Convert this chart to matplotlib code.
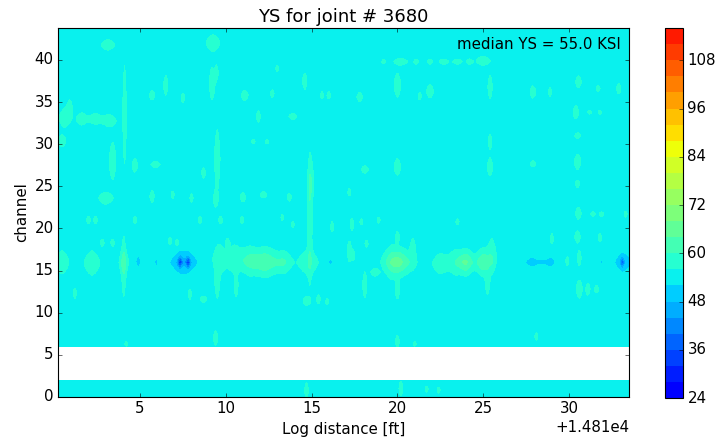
import numpy as np
import matplotlib
matplotlib.use('Agg')
import matplotlib.pyplot as plt

plt.style.use('classic')
plt.rcParams['font.size'] = 13.5

joint_id = 3680
median_ys = 55.0
log_origin = 14810.0          # log distance of the joint start [ft]
dist_range = (0.22, 33.5)     # distances covered, relative to log_origin
n_channels_top = 43.8
dead_channels = (2.0, 6.0)    # no readings between these channels
base_ys = 54.0                # typical YS level across the joint [KSI]

# local YS features: (distance offset, channel, half-width ft, half-height ch, peak YS)
band16_spots = [
    (0.45, 16.0, 0.45, 1.5, 58.5), (2.2, 15.9, 0.5, 1.6, 58.5),
    (4.05, 16.0, 0.3, 1.4, 58.5), (4.9, 16.1, 0.17, 0.8, 50.0),
    (5.95, 16.0, 0.12, 0.5, 50.5), (7.55, 16.0, 0.85, 1.5, 49.0),
    (7.33, 16.0, 0.17, 0.7, 38.0), (7.8, 16.0, 0.17, 0.7, 38.0),
    (9.6, 16.3, 0.4, 2.0, 58.5), (10.5, 16.4, 0.6, 1.8, 58.5),
    (11.4, 16.2, 0.55, 1.7, 58.5), (12.3, 16.0, 0.9, 1.5, 63.0),
    (13.4, 16.0, 0.45, 1.3, 58.5), (14.8, 16.0, 0.65, 1.6, 58.5),
    (16.1, 16.0, 0.17, 0.35, 50.0), (17.2, 17.3, 0.14, 1.4, 58.5),
    (17.4, 16.8, 0.14, 0.7, 58.5), (19.7, 16.0, 0.5, 2.0, 58.5),
    (20.15, 16.0, 0.8, 1.4, 63.0), (20.9, 17.5, 0.17, 1.5, 58.5),
    (22.5, 15.8, 0.5, 1.3, 58.5), (23.4, 16.0, 0.55, 1.6, 58.5),
    (24.0, 16.0, 0.45, 1.3, 63.0), (25.0, 16.0, 0.45, 1.4, 63.0),
    (25.5, 16.8, 0.28, 2.2, 58.5), (27.85, 16.0, 0.45, 0.7, 50.0),
    (28.9, 16.0, 0.35, 0.7, 50.0), (28.4, 16.0, 0.3, 0.3, 51.0),
    (31.05, 16.0, 0.09, 0.35, 51.0), (31.9, 16.0, 0.09, 0.35, 51.0),
    (33.15, 16.0, 0.5, 1.2, 49.0), (33.1, 16.0, 0.14, 0.6, 42.0),
]

# smaller patches off the channel 16 band: (distance offset, channel, half-width, half-height)
upper_spots = [
    (3.13, 41.8, 0.45, 0.7), (9.25, 42.0, 0.45, 1.1), (9.2, 37.2, 0.18, 2.2),
    (9.45, 38.5, 0.12, 1.0), (0.6, 33.1, 0.35, 1.2), (0.9, 34.2, 0.18, 1.2),
    (1.6, 33.0, 0.35, 0.8), (2.4, 33.0, 0.45, 0.7), (3.2, 32.8, 0.45, 0.8),
    (0.45, 30.4, 0.25, 0.8), (4.1, 33.5, 0.12, 6.5), (3.4, 28.0, 0.22, 2.5),
    (4.7, 27.5, 0.18, 0.9), (5.7, 35.8, 0.18, 0.6), (5.9, 27.6, 0.3, 0.4),
    (6.5, 37.0, 0.14, 1.3), (7.5, 35.5, 0.12, 0.6), (8.7, 26.6, 0.12, 0.7),
    (9.5, 28.2, 0.18, 4.0), (11.1, 35.8, 0.22, 0.7), (14.6, 37.5, 0.14, 1.1),
    (14.95, 25.5, 0.18, 2.8), (14.9, 20.5, 0.14, 7.5), (11.9, 33.3, 0.12, 0.8),
    (13.0, 39.0, 0.1, 0.4), (12.7, 36.0, 0.12, 0.5), (13.9, 33.3, 0.25, 0.4),
    (15.6, 35.8, 0.1, 0.5), (16.0, 35.8, 0.12, 0.5), (17.8, 35.6, 0.18, 0.6),
    (18.1, 27.0, 0.22, 0.5), (11.6, 30.3, 0.12, 0.3), (12.4, 30.3, 0.12, 0.3),
    (20.0, 37.0, 0.22, 1.6), (20.0, 27.3, 0.22, 1.1), (21.9, 36.3, 0.22, 0.9),
    (21.3, 35.7, 0.1, 0.5), (19.2, 39.8, 0.12, 0.3), (20.2, 39.8, 0.45, 0.45),
    (21.1, 39.8, 0.15, 0.35), (21.9, 39.8, 0.15, 0.35), (22.7, 39.8, 0.3, 0.35),
    (23.5, 39.8, 0.3, 0.35), (24.2, 39.8, 0.2, 0.35), (25.0, 39.9, 0.45, 0.6),
    (25.4, 36.8, 0.14, 1.6), (25.4, 30.3, 0.12, 1.0), (25.4, 27.3, 0.18, 1.2),
    (27.9, 36.2, 0.18, 0.8), (28.9, 36.2, 0.1, 0.6), (30.55, 37.4, 0.18, 0.8),
    (30.4, 33.8, 0.18, 0.9), (30.5, 31.0, 0.18, 0.4), (30.5, 27.9, 0.22, 1.0),
    (30.5, 25.3, 0.14, 0.5), (32.9, 36.6, 0.14, 0.7), (31.7, 36.6, 0.12, 0.4),
    (27.9, 27.7, 0.18, 0.4), (31.2, 33.8, 0.12, 0.25), (31.8, 33.8, 0.12, 0.25),
]

middle_spots = [
    (3.0, 23.6, 0.45, 0.8), (5.7, 23.8, 0.14, 0.8), (6.9, 24.0, 0.1, 0.5),
    (8.0, 23.6, 0.1, 0.6), (9.4, 23.5, 0.14, 1.0), (11.0, 23.7, 0.18, 0.6),
    (2.0, 21.0, 0.12, 0.5), (2.4, 21.0, 0.12, 0.5), (4.7, 21.0, 0.12, 0.5),
    (8.5, 21.0, 0.12, 0.5), (9.7, 21.0, 0.12, 0.5), (10.95, 21.0, 0.12, 0.5),
    (2.8, 18.3, 0.12, 0.5), (3.4, 18.3, 0.12, 0.5), (6.75, 18.5, 0.12, 0.5),
    (7.15, 18.3, 0.12, 0.5), (10.1, 18.3, 0.12, 0.5), (4.05, 15.5, 0.14, 4.0),
    (1.2, 12.3, 0.1, 0.7), (7.9, 12.2, 0.1, 0.7), (8.7, 11.6, 0.22, 0.4),
    (9.5, 13.5, 0.14, 2.0), (10.6, 13.2, 0.12, 1.5), (9.4, 7.0, 0.14, 1.0),
    (12.2, 24.0, 0.22, 0.4), (13.7, 23.7, 0.14, 0.5), (17.2, 24.3, 0.1, 0.5),
    (13.3, 21.3, 0.1, 0.4), (13.9, 20.5, 0.1, 0.4), (16.2, 20.2, 0.1, 0.7),
    (17.35, 20.5, 0.12, 0.8), (17.9, 20.8, 0.1, 0.4), (18.9, 21.0, 0.1, 0.4),
    (20.0, 19.0, 0.12, 0.7), (18.2, 18.2, 0.1, 0.5), (18.1, 13.3, 0.14, 1.7),
    (18.7, 14.8, 0.28, 0.5), (20.0, 12.7, 0.14, 1.2), (20.0, 6.6, 0.12, 0.8),
    (15.4, 11.6, 0.12, 0.6), (15.9, 11.3, 0.1, 0.4), (14.7, 11.4, 0.22, 0.6),
    (30.55, 21.8, 0.18, 0.8), (31.4, 21.7, 0.15, 0.3), (31.9, 21.7, 0.15, 0.3),
    (33.3, 21.7, 0.1, 0.4), (23.5, 20.8, 0.1, 0.4), (25.25, 13.5, 0.14, 1.5),
    (29.0, 18.8, 0.1, 0.7), (30.5, 19.0, 0.18, 0.8), (31.8, 18.9, 0.1, 0.6),
    (30.6, 16.5, 0.12, 1.0), (29.9, 16.1, 0.1, 0.6), (30.6, 12.8, 0.2, 1.2),
    (31.1, 12.8, 0.14, 0.8), (31.6, 12.8, 0.14, 0.5), (28.1, 7.2, 0.1, 0.5),
]

bottom_spots = [
    (14.7, 0.8, 0.12, 1.0), (20.2, 1.0, 0.12, 1.0), (21.0, 6.3, 0.1, 0.3),
    (21.7, 0.9, 0.1, 0.4), (22.4, 0.8, 0.1, 0.4), (4.2, 6.3, 0.1, 0.3),
]
streak_peak_ys = 58.5

ys_levels = np.arange(24, 117, 4)
cbar_ticks = np.arange(24, 109, 12)
color_range = (12, 128)

# build the YS grid; patches get a pointed, diamond-like outline
dist = np.arange(dist_range[0], dist_range[1] + 1e-9, 0.04)
chan = np.round(np.arange(0, n_channels_top + 1e-9, 0.1), 2)
X, Y = np.meshgrid(dist, chan)
ys = np.full(X.shape, base_ys)

all_spots = list(band16_spots)
for s in upper_spots + middle_spots + bottom_spots:
    all_spots.append(s + (streak_peak_ys,))
p = 1.5
for x0, y0, wx, wy, peak in all_spots:
    r = (np.abs((X - x0) / wx) ** p + np.abs((Y - y0) / wy) ** p) ** (2.0 / p)
    ys += (peak - base_ys) * np.exp(-r)

ys[(Y > dead_channels[0]) & (Y < dead_channels[1])] = np.nan

fig = plt.figure(figsize=(719 / 80, 444 / 80), dpi=80, facecolor='white')
ax = fig.add_axes([0.0807, 0.1059, 0.7942, 0.8311])
norm = plt.Normalize(vmin=color_range[0], vmax=color_range[1])
cs = ax.contourf(X + log_origin, Y, ys, levels=ys_levels, cmap='jet', norm=norm)
ax.set_xlim(log_origin + dist_range[0], log_origin + dist_range[1])
ax.set_ylim(0, n_channels_top)
ax.xaxis.get_major_formatter().set_useOffset(14810)
ax.set_title('YS for joint # %d' % joint_id)
ax.set_xlabel('Log distance [ft]')
ax.set_ylabel('channel')
ax.text(0.985, 0.975, 'median YS = %.1f KSI' % median_ys, transform=ax.transAxes,
        ha='right', va='top')

cax = fig.add_axes([0.9249, 0.1036, 0.025, 0.833])
fig.colorbar(cs, cax=cax, ticks=cbar_ticks)

fig.savefig('out.png', dpi=80, facecolor='white')
